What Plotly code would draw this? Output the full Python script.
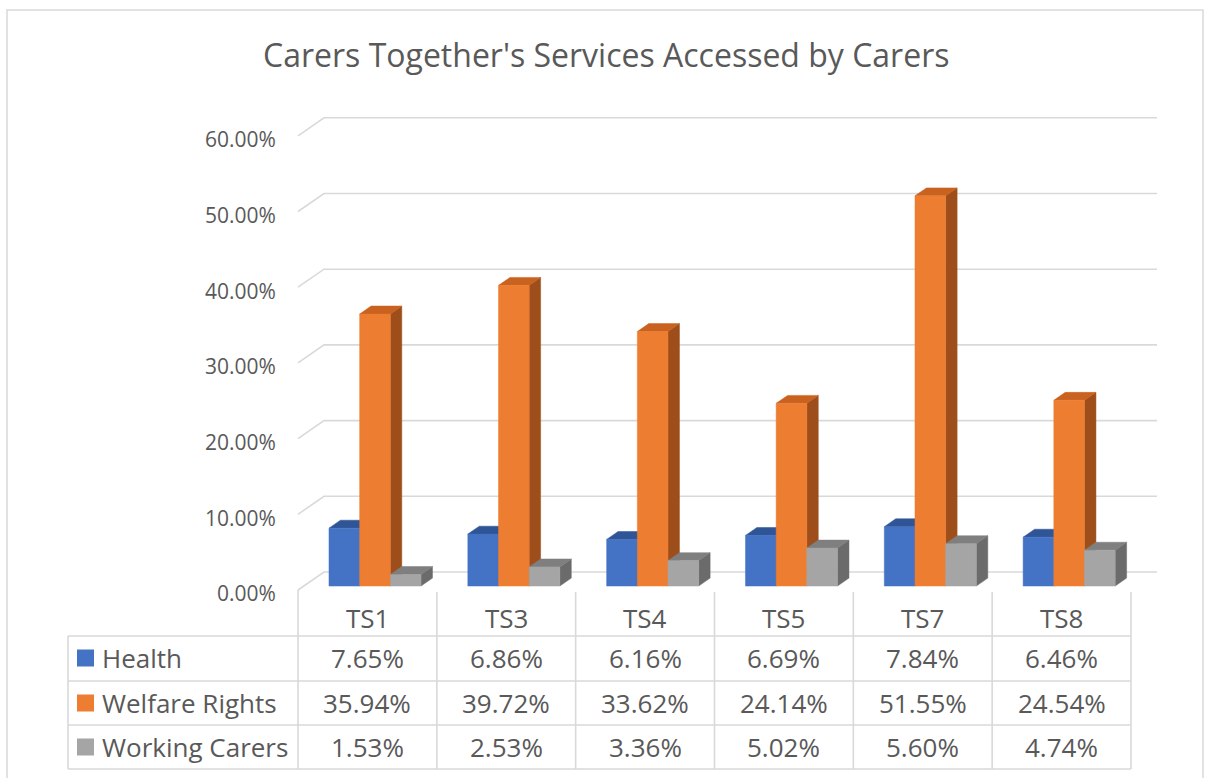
import plotly.graph_objects as go

# ---------------- data ----------------
categories = ["TS1", "TS3", "TS4", "TS5", "TS7", "TS8"]
series_names = ["Health", "Welfare Rights", "Working Carers"]
health = [7.65, 6.86, 6.16, 6.69, 7.84, 6.46]
welfare_rights = [35.94, 39.72, 33.62, 24.14, 51.55, 24.54]
working_carers = [1.53, 2.53, 3.36, 5.02, 5.60, 4.74]
y_ticks = [0, 10, 20, 30, 40, 50, 60]
title_text = "Carers Together's Services Accessed by Carers"

# ---------------- layout constants (pixels) ----------------
W, H = 1209, 778
PX_X0 = 298.0      # front-left corner of the floor
PX_CAT = 138.83    # width of one category
PX_Y0 = 590.0      # front edge of floor (0 %)
PX_PCT = 7.57      # pixels per percent
DEPTH_PX_X, DEPTH_PX_Y = 26.0, 18.0
DXU = DEPTH_PX_X / PX_CAT
DYV = DEPTH_PX_Y / PX_PCT
D1, D2 = 0.22, 0.66          # bar front/back depth fraction
BAR_START, BAR_W = 0.182, 0.221

TEXT = "#595959"
GRID = "#D9D9D9"
FONT = "Open Sans"

front_cols = ["#4472C4", "#ED7D31", "#A5A5A5"]
top_cols = ["#2F5597", "#C9611F", "#7F7F7F"]
side_cols = ["#284A85", "#9E4E1B", "#6B6B6B"]

def pu(px):  # pixel x -> x units
    return (px - PX_X0) / PX_CAT

def py(px):  # pixel y -> paper y
    return 1 - px / H

fig = go.Figure()

# gridlines (back wall + left wall diagonal)
gx, gy = [], []
for v in y_ticks:
    gx += [0, DXU, len(categories) + DXU, None]
    gy += [v, v + DYV, v + DYV, None]
fig.add_trace(go.Scatter(x=gx, y=gy, mode="lines", line=dict(color=GRID, width=1.6),
                         hoverinfo="skip", showlegend=False))

# 3D bars
all_series = [health, welfare_rights, working_carers]
for s, vals in enumerate(all_series):
    sx, sy, tx, ty, fx, fy = [], [], [], [], [], []
    for i, v in enumerate(vals):
        x0 = i + BAR_START + s * BAR_W
        x1 = x0 + BAR_W
        a0, a1 = x0 + D1 * DXU, x1 + D1 * DXU
        b0, b1 = x0 + D2 * DXU, x1 + D2 * DXU
        yb1, yb2 = D1 * DYV, D2 * DYV
        sx += [a1, b1, b1, a1, a1, None]
        sy += [yb1, yb2, v + yb2, v + yb1, yb1, None]
        tx += [a0, a1, b1, b0, a0, None]
        ty += [v + yb1, v + yb1, v + yb2, v + yb2, v + yb1, None]
        fx += [a0, a1, a1, a0, a0, None]
        fy += [yb1, yb1, v + yb1, v + yb1, yb1, None]
    for xs, ys, c in [(sx, sy, side_cols[s]), (tx, ty, top_cols[s]), (fx, fy, front_cols[s])]:
        fig.add_trace(go.Scatter(x=xs, y=ys, mode="lines", fill="toself", fillcolor=c,
                                 line=dict(color=c, width=0.5), hoverinfo="skip",
                                 showlegend=False, name=series_names[s]))

shapes = []
annotations = []

# outer chart border
shapes.append(dict(type="rect", xref="paper", yref="paper", x0=7 / W, x1=1203 / W,
                   y0=py(800), y1=py(10), line=dict(color=GRID, width=1.5)))

# data table lines
n = len(categories)
row_lines = [636, 681, 725, 769]
for yl in row_lines:
    shapes.append(dict(type="line", xref="x", yref="paper", x0=pu(68), x1=n,
                       y0=py(yl), y1=py(yl), line=dict(color=GRID, width=1.6)))
for i in range(n + 1):
    shapes.append(dict(type="line", xref="x", yref="paper", x0=i, x1=i,
                       y0=py(590 if i == 0 else 592), y1=py(769),
                       line=dict(color=GRID, width=1.6)))
shapes.append(dict(type="line", xref="x", yref="paper", x0=pu(68), x1=pu(68),
                   y0=py(636), y1=py(769), line=dict(color=GRID, width=1.6)))

# header labels
for i, c in enumerate(categories):
    annotations.append(dict(x=i + 0.5, y=py(618), xref="x", yref="paper", text=c,
                            showarrow=False, xanchor="center", yanchor="middle",
                            font=dict(family=FONT, size=26, color=TEXT)))

row_centers = [658, 703, 747]
for s, vals in enumerate(all_series):
    yc = row_centers[s]
    for i, v in enumerate(vals):
        annotations.append(dict(x=i + 0.5, y=py(yc), xref="x", yref="paper",
                                text=f"{v:.2f}%", showarrow=False,
                                xanchor="center", yanchor="middle",
                                font=dict(family=FONT, size=26, color=TEXT)))
    shapes.append(dict(type="rect", xref="paper", yref="paper", x0=77 / W, x1=94 / W,
                       y0=py(yc + 8.5), y1=py(yc - 8.5), fillcolor=front_cols[s],
                       line=dict(width=0)))
    annotations.append(dict(x=100 / W, y=py(yc), xref="paper", yref="paper",
                            text=series_names[s], showarrow=False,
                            xanchor="left", yanchor="middle",
                            font=dict(family=FONT, size=26, color=TEXT)))

# title
annotations.append(dict(x=606 / W, y=py(55), xref="paper", yref="paper", text=title_text,
                        showarrow=False, xanchor="center", yanchor="middle",
                        font=dict(family=FONT, size=32, color=TEXT)))

fig.update_layout(
    width=W, height=H, autosize=False,
    margin=dict(l=0, r=0, t=0, b=0),
    paper_bgcolor="white", plot_bgcolor="white",
    showlegend=False,
    xaxis=dict(domain=[0, 1], range=[pu(0), pu(W)], visible=False, fixedrange=True),
    yaxis=dict(domain=[0, 1], range=[(PX_Y0 - H) / PX_PCT, PX_Y0 / PX_PCT],
               anchor="free", position=PX_X0 / W, side="left",
               tickvals=y_ticks, ticktext=[f"{v:.2f}%" for v in y_ticks],
               tickfont=dict(family=FONT, size=21, color=TEXT),
               ticks="outside", ticklen=18, tickcolor="rgba(0,0,0,0)",
               ticklabelshift=4,
               showgrid=False, zeroline=False, showline=False, fixedrange=True),
    shapes=shapes,
    annotations=annotations,
)

fig.write_html("out.html",
               config={"displayModeBar": False},
               post_script="document.body.style.margin='0';document.body.style.padding='0';")
